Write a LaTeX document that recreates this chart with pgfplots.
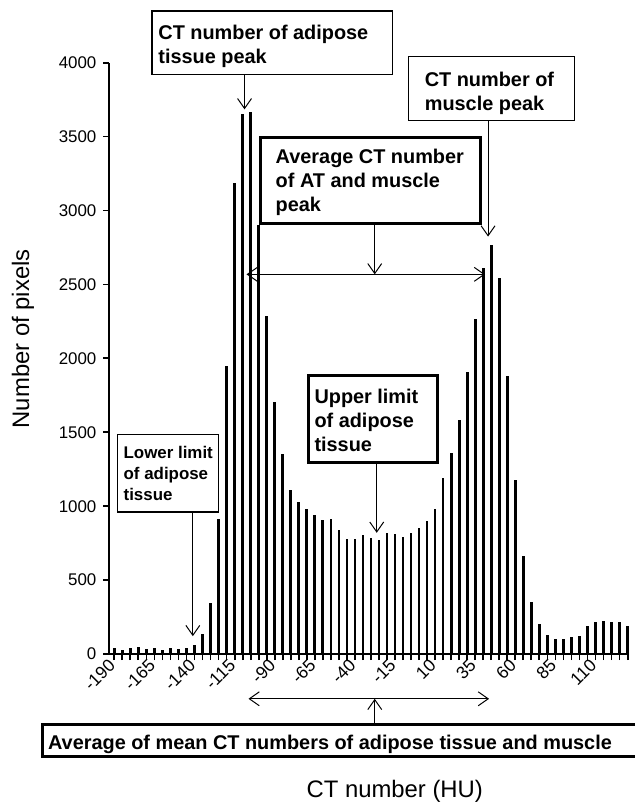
\documentclass[border=0pt]{standalone}
\usepackage{pgfplots}
\usepackage{pgfplotstable}
\pgfplotsset{compat=1.18}
\usepackage{fontspec}
\setmainfont{Liberation Sans}
\usetikzlibrary{arrows.meta}

\pgfplotstableread{
hu count
-190 38
-185 28
-180 44
-175 50
-170 33
-165 38
-160 28
-155 44
-150 33
-145 44
-140 60
-135 138
-130 347
-125 913
-120 1948
-115 3183
-110 3650
-105 3664
-100 2900
-95 2289
-90 1708
-85 1353
-80 1111
-75 1029
-70 979
-65 941
-60 908
-55 911
-50 836
-45 776
-40 776
-35 803
-30 787
-25 770
-20 817
-15 809
-10 790
-5 817
0 850
5 897
10 982
15 1188
20 1359
25 1585
30 1909
35 2267
40 2613
45 2765
50 2545
55 1882
60 1175
65 666
70 352
75 206
80 127
85 99
90 99
95 116
100 121
105 187
110 215
115 226
120 215
125 215
130 193
}\histdata

\begin{document}
\begin{tikzpicture}
\begin{axis}[
  at={(55pt,-329pt)}, anchor=south west,
  scale only axis, width=261.5pt, height=297.5pt,
  xmin=-193.1, xmax=131, ymin=0, ymax=4000,
  axis lines*=left,
  axis line style={line width=1pt},
  xtick={-190,-165,-140,-115,-90,-65,-40,-15,10,35,60,85,110},
  xticklabels={-190,-165,-140,-115,-90,-65,-40,-15,10,35,60,85,110},
  minor xtick={-185,-180,...,130},
  ytick={0,500,1000,1500,2000,2500,3000,3500,4000},
  tick align=outside,
  major tick length=3pt, minor tick length=3pt,
  tick style={line width=0.9pt, black},
  xticklabel style={rotate=45, anchor=east, inner sep=1.5pt, font=\fontsize{8.8}{9}\selectfont},
  yticklabel style={font=\fontsize{8.5}{9}\selectfont},
  /pgf/number format/1000 sep={},
  /pgf/number format/assume math mode=true,
  xlabel={CT number (HU)},
  ylabel={Number of pixels},
  xlabel style={at={(axis description cs:0.549,-0.232)}, anchor=center, font=\fontsize{12}{14}\selectfont},
  ylabel style={at={(axis description cs:-0.166,0.533)}, anchor=center, font=\fontsize{12}{14}\selectfont},
  clip=false,
]
\addplot[ycomb, line width=1.35pt, black, mark=none] table[x=hu,y=count]{\histdata};
\end{axis}
\begin{scope}[x=0.5pt,y=-0.5pt,
  ann/.style={font=\fontsize{10}{12}\selectfont\bfseries, anchor=north west, inner sep=0pt, align=left},
  arr/.style={line width=0.5pt, -{Straight Barb[length=5pt,width=7pt]}},
  darr/.style={line width=0.5pt, {Straight Barb[length=5pt,width=7pt]}-{Straight Barb[length=5pt,width=7pt]}}]
\useasboundingbox (0,0) rectangle (639,809);
% adipose tissue peak
\draw[line width=0.6pt, fill=white] (153,11) rectangle (395,75);
\node[ann] at (159,25) {CT number of adipose\\tissue peak};
\draw[arr] (246,75) -- (246,110);
% muscle peak
\draw[line width=0.6pt, fill=white] (411,57) rectangle (578,121);
\node[ann] at (427,72) {CT number of\\muscle peak};
\draw[arr] (491,121) -- (491,238);
% average of peaks
\draw[line width=1.5pt, fill=white] (262.5,138.5) rectangle (483.5,224.5);
\node[ann] at (277,150) {Average CT number\\of AT and muscle\\peak};
\draw[arr] (377,226) -- (377,276);
\draw[darr] (248,276) -- (488,276);
% upper limit
\draw[line width=1.5pt, fill=white] (310.5,377.5) rectangle (440.5,465.5);
\node[ann] at (316,391) {Upper limit\\of adipose\\tissue};
\draw[arr] (379,467) -- (379,536);
% lower limit
\draw[line width=0.6pt, fill=white] (118,437) rectangle (220,515);
\node[ann, font=\fontsize{8.5}{10.5}\selectfont\bfseries] at (124,449) {Lower limit\\of adipose\\tissue};
\draw[arr] (194,515) -- (194,640);
% bottom
\draw[darr] (250,703) -- (492,703);
\draw[arr] (377,727) -- (377,703);
\draw[line width=1.5pt] (639,728.5) -- (42.5,728.5) -- (42.5,761.5) -- (639,761.5);
\node[ann] at (48,739) {Average of mean CT numbers of adipose tissue and muscle};
\end{scope}
\end{tikzpicture}
\end{document}
